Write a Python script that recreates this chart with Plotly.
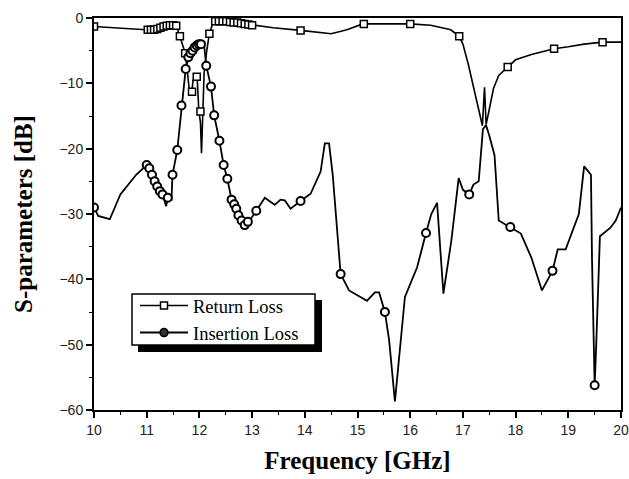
import plotly.graph_objects as go

# ---------------- data ----------------
# Return Loss (S11) curve
rl_freq = [10.0, 10.3, 10.6, 11.0, 11.14, 11.2, 11.26, 11.32, 11.38, 11.44, 11.5, 11.56,
           11.63, 11.68, 11.73, 11.77, 11.81, 11.85, 11.88, 11.92, 11.96, 11.99, 12.02,
           12.04, 12.06, 12.09, 12.14, 12.19, 12.25, 12.3, 12.5, 12.7, 12.9, 13.0, 13.4,
           13.92, 14.2, 14.5, 14.8, 15.1, 15.5, 16.0, 16.39, 16.77, 16.93, 17.0, 17.1,
           17.2, 17.3, 17.37, 17.41, 17.44, 17.5, 17.58, 17.68, 17.85, 18.0, 18.3, 18.73,
           19.0, 19.3, 19.65, 20.0]
rl_db = [-1.3, -1.5, -1.6, -1.8, -1.8, -1.7, -1.5, -1.3, -1.2, -1.1, -1.1, -1.2,
         -2.8, -4.0, -5.4, -8.0, -11.3, -11.8, -9.5, -9.0, -9.5, -14.3, -16.0,
         -20.7, -15.0, -8.3, -5.0, -2.4, -0.9, -0.5, -0.5, -0.7, -1.0, -1.1, -1.5,
         -1.9, -2.1, -2.4, -1.8, -0.9, -0.9, -0.9, -1.1, -1.8, -2.8, -4.0, -7.0,
         -10.5, -14.0, -16.5, -10.6, -16.3, -14.0, -10.8, -8.8, -7.5, -6.4, -5.6, -4.7,
         -4.4, -4.0, -3.7, -3.7]
# Return Loss marker points
rl_mk_freq = [10.0, 11.02, 11.08, 11.14, 11.2, 11.26, 11.32, 11.38, 11.44, 11.5, 11.56,
              11.63, 11.73, 11.86, 11.95, 12.02, 12.19, 12.3, 12.37, 12.44, 12.51, 12.58,
              12.65, 12.72, 12.79, 12.86, 12.93, 13.0, 13.92, 15.12, 16.0, 16.93, 17.85,
              18.73, 19.65]
rl_mk_db = [-1.3, -1.8, -1.8, -1.8, -1.7, -1.5, -1.3, -1.2, -1.1, -1.1, -1.2,
            -2.8, -5.4, -11.3, -9.0, -14.3, -2.4, -0.5, -0.5, -0.5, -0.5, -0.6,
            -0.7, -0.7, -0.8, -0.9, -1.0, -1.1, -1.9, -0.9, -0.9, -2.8, -7.5,
            -4.7, -3.7]

# Insertion Loss (S21) curve
il_freq = [10.0, 10.08, 10.3, 10.5, 10.8, 11.0, 11.05, 11.1, 11.15, 11.2, 11.25, 11.3,
           11.37, 11.4, 11.47, 11.49, 11.58, 11.66, 11.74, 11.79, 11.83, 11.87, 11.91,
           11.95, 11.99, 12.03, 12.09, 12.13, 12.22, 12.28, 12.38, 12.46, 12.53, 12.61,
           12.66, 12.7, 12.74, 12.8, 12.86, 12.92, 12.97, 13.08, 13.24, 13.43, 13.54,
           13.62, 13.73, 13.92, 14.11, 14.3, 14.38, 14.46, 14.53, 14.68, 14.84, 15.18,
           15.33, 15.41, 15.52, 15.6, 15.71, 15.9, 16.13, 16.3, 16.4, 16.51, 16.63,
           16.78, 16.92, 17.0, 17.12, 17.2, 17.3, 17.38, 17.44, 17.5, 17.6, 17.68,
           17.9, 18.1, 18.3, 18.5, 18.7, 18.8, 18.95, 19.2, 19.3, 19.43, 19.45, 19.48,
           19.5, 19.53, 19.6, 19.8, 19.9, 20.0]
il_db = [-29.0, -30.3, -30.8, -27.0, -24.0, -22.5, -23.0, -24.0, -25.0, -25.8, -26.5, -27.0,
         -28.8, -27.5, -27.8, -24.0, -20.2, -13.4, -7.8, -6.0, -5.4, -5.0, -4.5,
         -4.2, -4.0, -4.0, -4.2, -7.3, -10.5, -14.9, -18.8, -22.5, -24.6, -27.8,
         -28.5, -29.2, -30.2, -31.0, -31.7, -31.2, -30.8, -29.5, -27.5, -28.6, -27.8,
         -27.9, -29.2, -28.0, -26.9, -23.5, -19.2, -19.2, -24.0, -39.2, -41.7, -43.3,
         -42.0, -42.0, -45.0, -49.3, -58.7, -42.7, -38.2, -32.9, -30.0, -28.3, -42.2,
         -34.1, -24.5, -26.3, -27.0, -25.5, -25.0, -17.0, -16.4, -18.0, -21.0, -31.0,
         -32.0, -33.0, -36.7, -41.7, -38.7, -35.4, -35.4, -30.0, -22.7, -24.0, -37.0, -49.8,
         -56.2, -50.0, -33.4, -32.1, -31.0, -29.0]
# Insertion Loss marker points
il_mk_freq = [10.0, 11.0, 11.05, 11.1, 11.15, 11.2, 11.25, 11.3, 11.4, 11.49, 11.58,
              11.66, 11.74, 11.79, 11.83, 11.87, 11.91, 11.95, 11.99, 12.03, 12.13,
              12.22, 12.28, 12.38, 12.46, 12.53, 12.61, 12.66, 12.7, 12.74, 12.8,
              12.86, 12.92, 13.08, 13.92, 14.68, 15.52, 16.3, 17.12, 17.9, 18.7, 19.5]
il_mk_db = [-29.0, -22.5, -23.0, -24.0, -25.0, -25.8, -26.5, -27.0, -27.5, -24.0, -20.2,
            -13.4, -7.8, -6.0, -5.4, -5.0, -4.5, -4.2, -4.0, -4.0, -7.3,
            -10.5, -14.9, -18.8, -22.5, -24.6, -27.8, -28.5, -29.2, -30.2, -31.0,
            -31.7, -31.2, -29.5, -28.0, -39.2, -45.0, -32.9, -27.0, -32.0, -38.7, -56.2]

series_names = ["Return Loss", "Insertion Loss"]
x_tick_vals = [10, 11, 12, 13, 14, 15, 16, 17, 18, 19, 20]
y_tick_vals = [0, -10, -20, -30, -40, -50, -60]

# ---------------- figure ----------------
W, H = 629, 479
L, R, T, B = 94, 8, 18, 69
pw, ph = W - L - R, H - T - B

fig = go.Figure()

fig.add_trace(go.Scatter(x=rl_freq, y=rl_db, mode="lines",
                         line=dict(color="black", width=1.6), showlegend=False,
                         hoverinfo="skip"))
fig.add_trace(go.Scatter(x=il_freq, y=il_db, mode="lines",
                         line=dict(color="black", width=1.8), showlegend=False,
                         hoverinfo="skip"))
fig.add_trace(go.Scatter(x=rl_mk_freq, y=rl_mk_db, mode="markers",
                         marker=dict(symbol="square", size=7, color="white",
                                     line=dict(color="black", width=1.5)),
                         showlegend=False))
fig.add_trace(go.Scatter(x=il_mk_freq, y=il_mk_db, mode="markers",
                         marker=dict(symbol="circle", size=8, color="white",
                                     line=dict(color="black", width=2)),
                         showlegend=False))
# legend entries
fig.add_trace(go.Scatter(x=[None], y=[None], mode="lines+markers", name=series_names[0],
                         line=dict(color="black", width=1.6),
                         marker=dict(symbol="square", size=7, color="white",
                                     line=dict(color="black", width=1.5))))
fig.add_trace(go.Scatter(x=[None], y=[None], mode="lines+markers", name=series_names[1],
                         line=dict(color="black", width=2),
                         marker=dict(symbol="circle", size=8, color="#333",
                                     line=dict(color="black", width=1.5))))

def px2paper_x(px):
    return (px - L) / pw

def px2paper_y(py):
    return (H - B - py) / ph

# legend frame with drop shadow
fig.add_shape(type="rect", xref="paper", yref="paper",
              x0=px2paper_x(138), x1=px2paper_x(322),
              y0=px2paper_y(352), y1=px2paper_y(300),
              fillcolor="black", line=dict(width=0), layer="above")
fig.add_shape(type="rect", xref="paper", yref="paper",
              x0=px2paper_x(132), x1=px2paper_x(315),
              y0=px2paper_y(345), y1=px2paper_y(294),
              fillcolor="white", line=dict(color="black", width=1.5), layer="above")

axis_common = dict(showline=True, linecolor="black", linewidth=2, mirror=True,
                   ticks="outside", tickcolor="black", tickwidth=1.5, ticklen=6,
                   showgrid=False, zeroline=False,
                   tickfont=dict(family="Liberation Sans, Arial", size=14, color="#222"))

title_font = dict(family="Liberation Serif, Times New Roman", size=25, color="black")

fig.update_layout(
    width=W, height=H,
    margin=dict(l=L, r=R, t=T, b=B, autoexpand=False),
    paper_bgcolor="white", plot_bgcolor="white",
    xaxis=dict(range=[10, 20], tickvals=x_tick_vals,
               minor=dict(dtick=0.5, ticks="outside", ticklen=3, tickcolor="black", tickwidth=1.2),
               title=dict(text="<b>Frequency [GHz]</b>", standoff=15, font=title_font),
               **axis_common),
    yaxis=dict(range=[-60, 0], tickvals=y_tick_vals,
               minor=dict(dtick=5, ticks="outside", ticklen=3, tickcolor="black", tickwidth=1.2),
               title=dict(text="<b>S-parameters [dB]</b>", standoff=20, font=title_font),
               **axis_common),
    legend=dict(x=px2paper_x(135), y=px2paper_y(287), xanchor="left", yanchor="top",
                bgcolor="rgba(0,0,0,0)", borderwidth=0,
                font=dict(family="Liberation Serif, Times New Roman", size=18.5, color="black"),
                itemwidth=48, tracegroupgap=0),
    showlegend=True,
)

fig.write_html("out.html")
